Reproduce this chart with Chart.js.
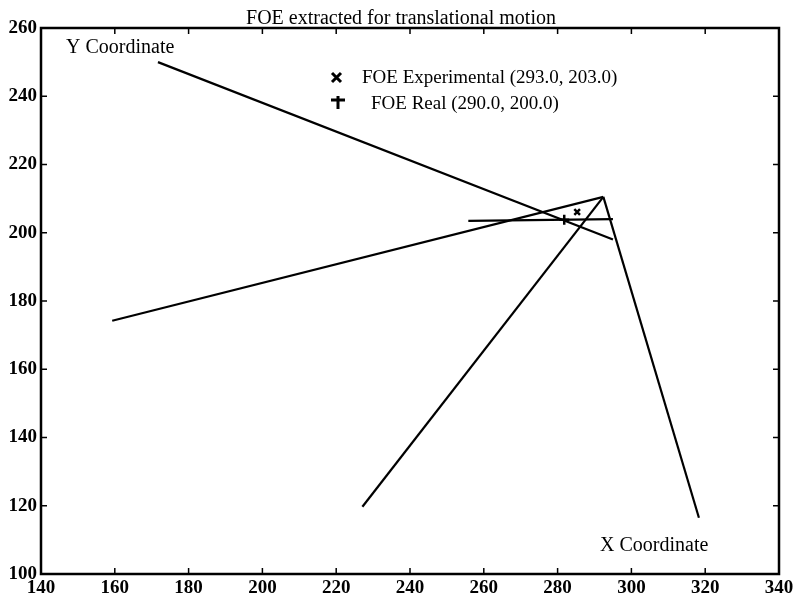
<!DOCTYPE html>
<html>
<head>
<meta charset="utf-8">
<script src="https://cdn.jsdelivr.net/npm/chart.js@4.4.0/dist/chart.umd.min.js"></script>
<style>
  html, body { margin: 0; padding: 0; background: #fff; }
  #wrap { width: 799px; height: 602px; }
</style>
</head>
<body>
<div id="wrap"><canvas id="myChart" width="799" height="602"></canvas></div>
<script>
// values
const xTicks = [140, 160, 180, 200, 220, 240, 260, 280, 300, 320, 340]
const yTicks = [100, 120, 140, 160, 180, 200, 220, 240, 260]

// projected "Y Coordinate" axis
const yAxisLineX = [171.7, 295.0]
const yAxisLineY = [250.0, 198.0]
// projected "X Coordinate" axis
const xAxisLineX = [292.4, 318.3]
const xAxisLineY = [210.5, 116.5]
// other flow lines
const leftLineX = [159.3, 292.4]
const leftLineY = [174.2, 210.5]
const lowLineX = [227.1, 292.4]
const lowLineY = [119.7, 210.5]
const flatLineX = [255.8, 295.0]
const flatLineY = [203.5, 204.0]

// FOE markers (as plotted)
const foeExp = {x: 285.3, y: 206.1}
const foeReal = {x: 281.8, y: 203.8}

const titleText = "FOE extracted for translational motion"
const legendLabels = ["FOE Experimental (293.0, 203.0)", "FOE Real (290.0, 200.0)"]

function pts(xs, ys) {
    return xs.map((x, i) => ({x: x, y: ys[i]}))
}

function lineSet(xs, ys) {
    return {
        data: pts(xs, ys),
        showLine: true,
        borderColor: "#000",
        borderWidth: 2.2,
        pointRadius: 0,
        fill: false
    }
}

const serif = "'Liberation Serif', 'DejaVu Serif', serif"

// draws inward ticks, frame, title, legend and axis notes (matlab look)
const decor = {
    id: "decor",
    afterDraw(chart) {
        const ctx = chart.ctx
        const a = chart.chartArea
        const xs = chart.scales.x
        const ys = chart.scales.y
        ctx.save()
        ctx.strokeStyle = "#000"
        ctx.lineWidth = 2.5
        ctx.strokeRect(a.left, a.top, a.right - a.left, a.bottom - a.top)
        ctx.lineWidth = 1.5
        ctx.beginPath()
        xTicks.forEach(v => {
            let p = xs.getPixelForValue(v)
            ctx.moveTo(p, a.bottom); ctx.lineTo(p, a.bottom - 6)
            ctx.moveTo(p, a.top); ctx.lineTo(p, a.top + 6)
        })
        yTicks.forEach(v => {
            let p = ys.getPixelForValue(v)
            ctx.moveTo(a.left, p); ctx.lineTo(a.left + 6, p)
            ctx.moveTo(a.right, p); ctx.lineTo(a.right - 6, p)
        })
        ctx.stroke()

        ctx.fillStyle = "#000"
        ctx.font = "20px " + serif
        ctx.textAlign = "center"
        ctx.textBaseline = "alphabetic"
        ctx.fillText(titleText, 401, 24)

        // legend
        ctx.textAlign = "left"
        ctx.textBaseline = "middle"
        ctx.font = "19px " + serif
        ctx.lineWidth = 3
        ctx.beginPath()
        ctx.moveTo(332, 73); ctx.lineTo(341, 82)
        ctx.moveTo(341, 73); ctx.lineTo(332, 82)
        ctx.moveTo(338, 96); ctx.lineTo(338, 109)
        ctx.moveTo(331, 100); ctx.lineTo(345, 100)
        ctx.stroke()
        ctx.fillText(legendLabels[0], 362, 78)
        ctx.fillText(legendLabels[1], 371, 104)

        ctx.font = "20px " + serif
        ctx.fillText("Y Coordinate", 66, 48)
        ctx.fillText("X Coordinate", 600, 546)
        ctx.restore()
    }
}

new Chart("myChart", {
    type: "scatter",
    data: {
        datasets: [
            lineSet(yAxisLineX, yAxisLineY),
            lineSet(xAxisLineX, xAxisLineY),
            lineSet(leftLineX, leftLineY),
            lineSet(lowLineX, lowLineY),
            lineSet(flatLineX, flatLineY),
            {
                data: [foeExp],
                pointStyle: "crossRot",
                pointRadius: 4,
                borderColor: "#000",
                borderWidth: 2.5
            },
            {
                data: [foeReal],
                pointStyle: "cross",
                pointRadius: 5,
                borderColor: "#000",
                borderWidth: 2.5
            }
        ]
    },
    options: {
        responsive: false,
        animation: false,
        layout: {padding: {top: 28, right: 20, left: 0, bottom: 0}},
        plugins: {
            legend: {display: false},
            title: {display: false},
            tooltip: {enabled: false}
        },
        scales: {
            x: {
                type: "linear",
                min: 140, max: 340,
                afterBuildTicks: s => { s.ticks = xTicks.map(v => ({value: v})) },
                afterFit: s => { s.height = 28 },
                grid: {display: false},
                border: {display: false},
                ticks: {color: "#000", font: {family: serif, size: 19, weight: "bold"}, padding: -5, maxRotation: 0}
            },
            y: {
                type: "linear",
                min: 100, max: 260,
                afterBuildTicks: s => { s.ticks = yTicks.map(v => ({value: v})) },
                afterFit: s => { s.width = 41 },
                grid: {display: false},
                border: {display: false},
                ticks: {color: "#000", font: {family: serif, size: 19, weight: "bold"}, padding: -4}
            }
        }
    },
    plugins: [decor]
})
</script>
</body>
</html>
